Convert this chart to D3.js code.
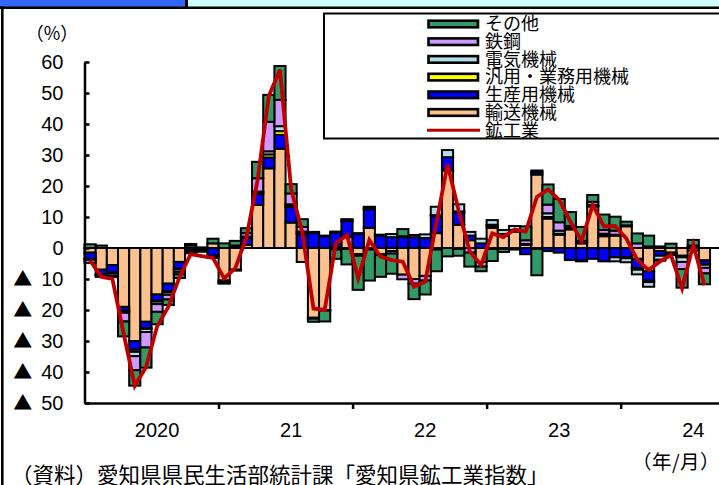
<!DOCTYPE html>
<html>
<head>
<meta charset="utf-8">
<script src="https://cdn.jsdelivr.net/npm/d3@7"></script>
<style>
  html, body { margin: 0; padding: 0; background: #fff; overflow: hidden; }
  text { fill: #000; }
</style>
</head>
<body>
<svg id="chart" width="719" height="485"></svg>
<script>
// Monthly categories, Jan 2020 - Aug 2024
const months = [
  "2020/1","2020/2","2020/3","2020/4","2020/5","2020/6","2020/7","2020/8","2020/9","2020/10","2020/11","2020/12",
  "2021/1","2021/2","2021/3","2021/4","2021/5","2021/6","2021/7","2021/8","2021/9","2021/10","2021/11","2021/12",
  "2022/1","2022/2","2022/3","2022/4","2022/5","2022/6","2022/7","2022/8","2022/9","2022/10","2022/11","2022/12",
  "2023/1","2023/2","2023/3","2023/4","2023/5","2023/6","2023/7","2023/8","2023/9","2023/10","2023/11","2023/12",
  "2024/1","2024/2","2024/3","2024/4","2024/5","2024/6","2024/7","2024/8"
];

// Contributions by industry (percentage points)
const transport = [ // 輸送機械
  -1.5,-7.0,-5.5,-19.0,-30.0,-23.8,-15.0,-11.5,-4.5,0.8,-0.6,1.5,
  -10.5,-7.0,1.0,13.9,25.7,32.0,8.2,-4.5,-22.5,-20.0,0.5,3.5,
  -2.0,6.5,-2.0,-1.0,-8.6,-10.0,-9.0,4.8,25.0,7.5,2.5,-4.5,
  6.5,4.0,5.3,1.0,23.7,9.5,4.3,6.0,1.5,13.4,3.8,4.0,
  7.0,-3.5,-7.5,-1.0,-1.5,-2.5,-0.8,-4.0
];
const production = [ // 生産用機械
  -2.0,-1.5,-2.3,-1.2,-2.8,-2.0,-2.0,-2.5,-2.2,-0.8,-0.3,-2.5,
  -0.5,0.8,2.2,3.5,3.5,4.5,5.0,4.5,4.8,3.8,4.5,5.2,
  4.5,6.0,4.0,3.5,3.5,3.5,3.2,5.5,4.3,4.0,1.5,1.5,
  0.7,0.5,0.5,-2.0,0.8,-1.0,-1.5,-3.9,-4.0,-3.5,-4.3,-3.0,
  -3.0,-3.0,-3.0,-1.5,-0.3,-0.3,0,-1.2
];
const general = [ // 汎用・業務用機械
  0,0,0,-0.2,-0.7,-0.3,-0.3,-0.3,-0.2,0,0,0,
  0,0,0.2,0.5,1.0,1.2,0.3,0.3,0.2,0,0,0.3,
  0,0.3,0,0,0,0,0,0.3,0,0.3,0,0,
  0.3,0,0,0,0,0.5,0.3,0.3,-0.3,0.2,0.3,0.3,
  -0.3,-0.5,-0.5,0,0,-0.2,0,-0.2
];
const electrical = [ // 電気機械
  -0.3,-0.3,-0.3,-0.5,-1.4,-1.0,-0.8,-0.8,-0.8,-0.4,-0.1,-0.2,
  -0.2,0,0.3,0.3,1.0,1.6,0.6,0.5,0.2,0.2,0.3,0.3,
  0.3,0.5,0.3,1.0,0.3,0.7,1.2,2.7,2.3,2.3,1.2,1.5,
  1.5,1.3,1.3,0.3,0.5,1.2,1.0,0.5,0.3,0.3,0.5,-1.3,
  -1.3,-1.5,-1.5,-1.3,-0.5,-1.5,0.3,-1.0
];
const steel = [ // 鉄鋼
  -1.0,-0.5,-0.8,-2.8,-4.5,-5.0,-2.5,-1.5,-0.8,-0.5,-0.2,-0.5,
  -0.3,-0.3,1.1,4.3,9.5,8.5,3.5,1.5,-0.3,-0.2,-0.5,-0.3,
  -0.5,-0.5,-0.3,-0.8,-1.5,-1.5,-1.5,-0.5,0,-0.3,-1.5,-1.5,
  -0.3,-0.3,0,1.2,-0.3,2.8,2.7,0.3,0.5,1.0,1.2,1.3,
  0.3,1.5,0.5,-0.3,0,-2.3,0.5,-1.8
];
const others = [ // その他
  1.2,0.8,-0.5,-4.8,-5.0,-6.5,-4.0,-1.8,-1.2,0.5,0.2,1.5,
  1.5,1.5,1.6,5.3,8.7,10.9,3.0,2.5,-1.0,-3.5,-3.0,-5.0,
  -11.0,-10.0,-7.0,-6.5,2.3,-5.0,-4.5,-7.0,-2.7,-2.2,-4.5,-1.5,
  -3.9,-1.0,-0.5,4.5,-8.5,6.5,7.5,4.5,4.5,2.2,5.0,4.5,
  1.2,3.2,3.5,0.5,1.4,-6.0,1.8,-3.5
];
// 鉱工業 total, year-on-year change (%)
const total = [
  -4.0,-9.3,-10.0,-27.5,-44.5,-38.5,-25.3,-19.0,-9.5,-2.0,-2.6,-3.2,
  -9.8,-6.5,3.5,22.0,49.0,57.5,19.0,5.0,-19.5,-20.0,1.5,4.2,
  -9.8,2.6,-2.8,-3.9,-4.4,-12.5,-10.9,8.0,27.0,12.0,-1.2,-5.5,
  4.7,3.5,6.0,5.3,16.5,18.9,15.5,8.5,2.3,13.9,7.0,7.1,
  3.1,-3.9,-7.1,-4.4,-2.3,-13.0,1.0,-12.0
];

const seriesNames  = ["輸送機械", "生産用機械", "汎用・業務用機械", "電気機械", "鉄鋼", "その他"];
const seriesValues = [transport, production, general, electrical, steel, others];
const seriesColors = ["#FBC28F", "#0000FF", "#FFFF00", "#B4DCE8", "#CC99FF", "#339966"];
const lineName  = "鉱工業";
const lineColor = "#C00000";

const yTicks     = [60, 50, 40, 30, 20, 10, 0, -10, -20, -30, -40, -50];
const yearLabels = ["2020", "21", "22", "23", "24"];
const yearStarts = [0, 12, 24, 36, 48];

// ---- layout ----
const W = 719, H = 485;
const left = 84.5, step = 11.17;
const svg = d3.select("#chart");
const latin = "'Liberation Sans', Arial, sans-serif";
const jp = "'Noto Sans CJK JP', sans-serif";

const rows = months.map((m, i) => {
  const r = { month: m };
  seriesNames.forEach((k, j) => { r[k] = seriesValues[j][i]; });
  return r;
});

const x = d3.scaleBand().domain(months).range([left, left + months.length * step]).padding(0);
const xi = d3.scaleLinear().domain([0, (W - left) / step]).range([left, W]);
const y = d3.scaleLinear().domain([-50, 60]).range([403, 62]);
const color = d3.scaleOrdinal().domain(seriesNames).range(seriesColors);

// frame and header strip
svg.append("rect").attr("x", 0).attr("y", 0).attr("width", 185).attr("height", 7).attr("fill", "#3366FF");
svg.append("rect").attr("x", 188).attr("y", 0).attr("width", W - 188).attr("height", 7).attr("fill", "#CCFFFF");
svg.append("rect").attr("x", 185).attr("y", 0).attr("width", 3).attr("height", 8).attr("fill", "#000");
svg.append("rect").attr("x", 0).attr("y", 6.5).attr("width", W).attr("height", 2.5).attr("fill", "#000");
svg.append("rect").attr("x", 1).attr("y", 6.5).attr("width", 2.6).attr("height", H).attr("fill", "#000");

// stacked bars (positive up, negative down from zero)
const stacked = d3.stack().keys(seriesNames).offset(d3.stackOffsetDiverging)(rows);
svg.append("g").selectAll("g")
  .data(stacked)
  .join("g")
    .attr("fill", d => color(d.key))
  .selectAll("rect")
  .data(d => d.filter(s => Math.abs(s[1] - s[0]) > 0.01))
  .join("rect")
    .attr("x", d => x(d.data.month))
    .attr("width", x.bandwidth())
    .attr("y", d => y(Math.max(d[0], d[1])))
    .attr("height", d => Math.abs(y(d[0]) - y(d[1])))
    .attr("stroke", "#000")
    .attr("stroke-width", 2);

// zero line
svg.append("line")
  .attr("x1", left).attr("x2", W)
  .attr("y1", y(0)).attr("y2", y(0))
  .attr("stroke", "#000").attr("stroke-width", 2);

// y axis; negative values are written with a ▲ mark
const yAxis = svg.append("g")
  .attr("transform", `translate(${left},0)`)
  .call(d3.axisLeft(y).tickValues(yTicks).tickSizeInner(-5).tickSizeOuter(0).tickPadding(21)
    .tickFormat(v => String(Math.abs(v))));
yAxis.select(".domain").attr("stroke", "#000").attr("stroke-width", 2.5);
yAxis.selectAll(".tick line").attr("stroke", "#000").attr("stroke-width", 2.5);
yAxis.selectAll(".tick text")
  .attr("font-family", latin)
  .attr("font-size", 20).attr("fill", "#000")
  .each(function(v) {
    if (v >= 0) return;
    const t = d3.select(this);
    const num = String(-v);
    t.text(null);
    t.append("tspan").attr("font-family", jp).attr("font-size", 19).text("▲");
    t.append("tspan").attr("dx", 9).text(num);
  });

// x axis: year boundaries
const xAxis = svg.append("g")
  .attr("transform", `translate(0,${y(-50)})`)
  .call(d3.axisBottom(xi).tickValues(yearStarts.slice(1)).tickSizeInner(6).tickSizeOuter(0).tickFormat(""));
xAxis.select(".domain").attr("stroke", "#000").attr("stroke-width", 2.5);
xAxis.selectAll(".tick line").attr("stroke", "#000").attr("stroke-width", 2.5);

// year labels, centred on each year's July; the last one kept inside the frame
const yl = svg.append("g").selectAll("text")
  .data(yearLabels)
  .join("text")
    .attr("y", 437)
    .attr("text-anchor", "middle")
    .attr("font-family", latin)
    .attr("font-size", 20)
    .text(d => d);
yl.attr("x", function(d, i) {
  const c = xi(yearStarts[i] + 6.5);
  const w = this.getComputedTextLength();
  return Math.min(c, W - 3 - w / 2);
});

// 鉱工業 line
const line = d3.line()
  .x((d, i) => x(months[i]) + x.bandwidth() / 2)
  .y(d => y(d));
svg.append("path")
  .datum(total)
  .attr("d", line)
  .attr("fill", "none")
  .attr("stroke", lineColor)
  .attr("stroke-width", 3.8)
  .attr("stroke-linejoin", "miter");

// unit labels and source
svg.append("text").attr("x", 52).attr("y", 40).attr("text-anchor", "middle")
  .attr("font-family", jp).attr("font-size", 18).text("（%）");
svg.append("text").attr("x", 676).attr("y", 469).attr("text-anchor", "middle")
  .attr("font-family", jp).attr("font-size", 19.5).attr("letter-spacing", 0.5).text("（年/月）");
svg.append("text").attr("x", 11).attr("y", 483)
  .attr("font-family", jp).attr("font-size", 21.5)
  .text("（資料）愛知県県民生活部統計課「愛知県鉱工業指数」");

// legend
const lg = svg.append("g");
lg.append("rect").attr("x", 324).attr("y", 13.5).attr("width", 420).attr("height", 125)
  .attr("fill", "#fff").attr("stroke", "#000").attr("stroke-width", 2);
const legendItems = seriesNames.map((n, j) => ({ name: n, color: seriesColors[j], type: "bar" })).reverse()
  .concat([{ name: lineName, color: lineColor, type: "line" }]);
const item = lg.selectAll("g.item")
  .data(legendItems)
  .join("g")
    .attr("class", "item")
    .attr("transform", (d, i) => `translate(0,${24 + i * 17.7})`);
item.filter(d => d.type === "bar").append("rect")
  .attr("x", 428.5).attr("y", -3.3).attr("width", 49.5).attr("height", 6.6)
  .attr("fill", d => d.color).attr("stroke", "#000").attr("stroke-width", 2.6);
item.filter(d => d.type === "line").append("line")
  .attr("x1", 427).attr("x2", 480).attr("y1", 0).attr("y2", 0)
  .attr("stroke", d => d.color).attr("stroke-width", 3);
item.append("text")
  .attr("x", 485).attr("y", 6.3)
  .attr("font-family", jp).attr("font-size", 18)
  .text(d => d.name);
</script>
</body>
</html>
